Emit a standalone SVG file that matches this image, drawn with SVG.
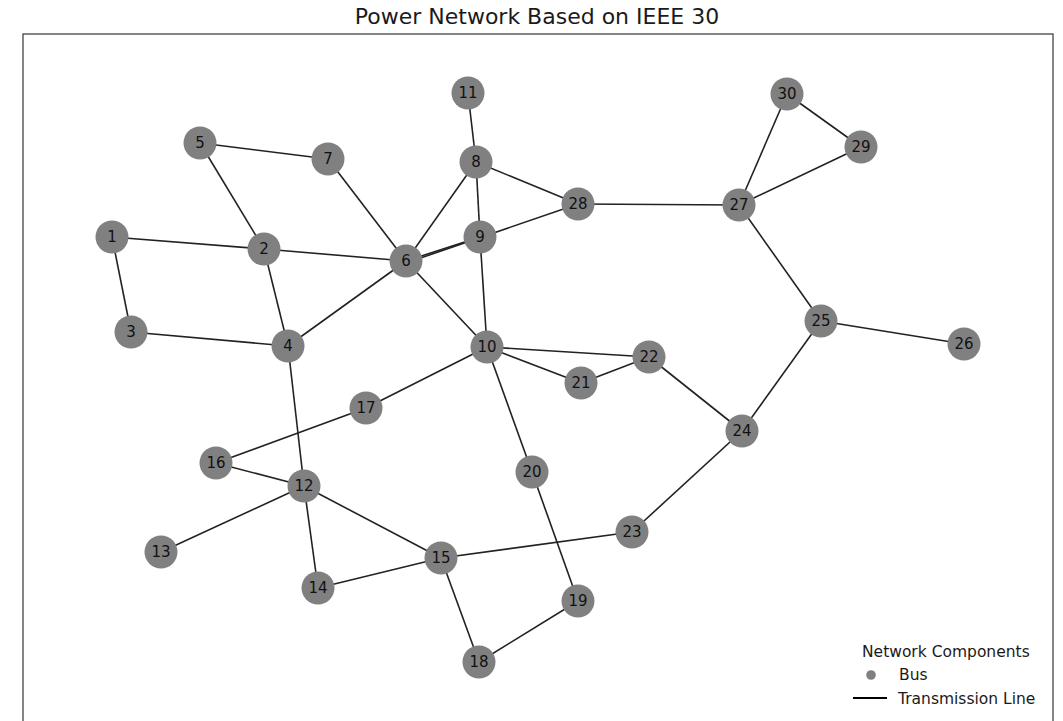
<svg xmlns="http://www.w3.org/2000/svg" width="1063" height="721" viewBox="0 0 1063 721">
  <style>
    .title { font-family: "DejaVu Sans", "Liberation Sans", sans-serif; font-size: 22px; fill: #1a1a1a; text-anchor: middle; }
    .frame { fill: none; stroke: #444; stroke-width: 1.3; }
    .edges line { stroke: #222; stroke-width: 1.6; }
    .bus circle { fill: #808080; }
    .bus text { font-family: "DejaVu Sans", "Liberation Sans", sans-serif; font-size: 15px; fill: #111; text-anchor: middle; dominant-baseline: central; }
    .legend text { font-family: "DejaVu Sans", "Liberation Sans", sans-serif; font-size: 15.5px; fill: #1a1a1a; }
  </style>

  <rect width="1063" height="721" fill="#ffffff"/>
  <text class="title" x="537" y="24">Power Network Based on IEEE 30</text>
  <rect class="frame" x="23" y="34" width="1030" height="700"/>

  <!-- transmission lines -->
  <g id="connectors" class="edges">
    <line x1="112" y1="237" x2="264" y2="249"/>
    <line x1="112" y1="237" x2="131" y2="332"/>
    <line x1="264" y1="249" x2="200" y2="143"/>
    <line x1="264" y1="249" x2="406" y2="261"/>
    <line x1="264" y1="249" x2="288" y2="346"/>
    <line x1="131" y1="332" x2="288" y2="346"/>
    <line x1="288" y1="346" x2="406" y2="261"/>
    <line x1="288" y1="346" x2="304" y2="486"/>
    <line x1="200" y1="143" x2="328" y2="159"/>
    <line x1="406" y1="261" x2="328" y2="159"/>
    <line x1="406" y1="261" x2="476" y2="162"/>
    <line x1="406" y1="261" x2="480" y2="237"/>
    <line x1="406" y1="263" x2="578" y2="204"/>
    <line x1="406" y1="261" x2="487" y2="347"/>
    <line x1="476" y1="162" x2="468" y2="93"/>
    <line x1="476" y1="162" x2="480" y2="237"/>
    <line x1="476" y1="162" x2="578" y2="204"/>
    <line x1="480" y1="237" x2="487" y2="347"/>
    <line x1="487" y1="347" x2="366" y2="408"/>
    <line x1="487" y1="347" x2="532" y2="472"/>
    <line x1="487" y1="347" x2="581" y2="383"/>
    <line x1="487" y1="347" x2="649" y2="357"/>
    <line x1="581" y1="383" x2="649" y2="357"/>
    <line x1="649" y1="357" x2="742" y2="431"/>
    <line x1="632" y1="532" x2="742" y2="431"/>
    <line x1="441" y1="558" x2="632" y2="532"/>
    <line x1="742" y1="431" x2="821" y2="321"/>
    <line x1="821" y1="321" x2="964" y2="344"/>
    <line x1="821" y1="321" x2="739" y2="205"/>
    <line x1="578" y1="204" x2="739" y2="205"/>
    <line x1="739" y1="205" x2="861" y2="147"/>
    <line x1="739" y1="205" x2="787" y2="94"/>
    <line x1="861" y1="147" x2="787" y2="94"/>
    <line x1="304" y1="486" x2="161" y2="552"/>
    <line x1="304" y1="486" x2="318" y2="588"/>
    <line x1="304" y1="486" x2="441" y2="558"/>
    <line x1="304" y1="486" x2="216" y2="463"/>
    <line x1="216" y1="463" x2="366" y2="408"/>
    <line x1="318" y1="588" x2="441" y2="558"/>
    <line x1="441" y1="558" x2="479" y2="662"/>
    <line x1="479" y1="662" x2="578" y2="601"/>
    <line x1="578" y1="601" x2="532" y2="472"/>
  </g>

  <!-- buses -->
  <g id="bus1" class="bus"><circle cx="112" cy="237" r="16.5"/><text x="112" y="237">1</text></g>
  <g id="bus2" class="bus"><circle cx="264" cy="249" r="16.5"/><text x="264" y="249">2</text></g>
  <g id="bus3" class="bus"><circle cx="131" cy="332" r="16.5"/><text x="131" y="332">3</text></g>
  <g id="bus4" class="bus"><circle cx="288" cy="346" r="16.5"/><text x="288" y="346">4</text></g>
  <g id="bus5" class="bus"><circle cx="200" cy="143" r="16.5"/><text x="200" y="143">5</text></g>
  <g id="bus6" class="bus"><circle cx="406" cy="261" r="16.5"/><text x="406" y="261">6</text></g>
  <g id="bus7" class="bus"><circle cx="328" cy="159" r="16.5"/><text x="328" y="159">7</text></g>
  <g id="bus8" class="bus"><circle cx="476" cy="162" r="16.5"/><text x="476" y="162">8</text></g>
  <g id="bus9" class="bus"><circle cx="480" cy="237" r="16.5"/><text x="480" y="237">9</text></g>
  <g id="bus10" class="bus"><circle cx="487" cy="347" r="16.5"/><text x="487" y="347">10</text></g>
  <g id="bus11" class="bus"><circle cx="468" cy="93" r="16.5"/><text x="468" y="93">11</text></g>
  <g id="bus12" class="bus"><circle cx="304" cy="486" r="16.5"/><text x="304" y="486">12</text></g>
  <g id="bus13" class="bus"><circle cx="161" cy="552" r="16.5"/><text x="161" y="552">13</text></g>
  <g id="bus14" class="bus"><circle cx="318" cy="588" r="16.5"/><text x="318" y="588">14</text></g>
  <g id="bus15" class="bus"><circle cx="441" cy="558" r="16.5"/><text x="441" y="558">15</text></g>
  <g id="bus16" class="bus"><circle cx="216" cy="463" r="16.5"/><text x="216" y="463">16</text></g>
  <g id="bus17" class="bus"><circle cx="366" cy="408" r="16.5"/><text x="366" y="408">17</text></g>
  <g id="bus18" class="bus"><circle cx="479" cy="662" r="16.5"/><text x="479" y="662">18</text></g>
  <g id="bus19" class="bus"><circle cx="578" cy="601" r="16.5"/><text x="578" y="601">19</text></g>
  <g id="bus20" class="bus"><circle cx="532" cy="472" r="16.5"/><text x="532" y="472">20</text></g>
  <g id="bus21" class="bus"><circle cx="581" cy="383" r="16.5"/><text x="581" y="383">21</text></g>
  <g id="bus22" class="bus"><circle cx="649" cy="357" r="16.5"/><text x="649" y="357">22</text></g>
  <g id="bus23" class="bus"><circle cx="632" cy="532" r="16.5"/><text x="632" y="532">23</text></g>
  <g id="bus24" class="bus"><circle cx="742" cy="431" r="16.5"/><text x="742" y="431">24</text></g>
  <g id="bus25" class="bus"><circle cx="821" cy="321" r="16.5"/><text x="821" y="321">25</text></g>
  <g id="bus26" class="bus"><circle cx="964" cy="344" r="16.5"/><text x="964" y="344">26</text></g>
  <g id="bus27" class="bus"><circle cx="739" cy="205" r="16.5"/><text x="739" y="205">27</text></g>
  <g id="bus28" class="bus"><circle cx="578" cy="204" r="16.5"/><text x="578" y="204">28</text></g>
  <g id="bus29" class="bus"><circle cx="861" cy="147" r="16.5"/><text x="861" y="147">29</text></g>
  <g id="bus30" class="bus"><circle cx="787" cy="94" r="16.5"/><text x="787" y="94">30</text></g>

  <!-- legend -->
  <g id="legend" class="legend">
    <text x="862" y="657">Network Components</text>
    <circle cx="871" cy="675" r="4.8" fill="#808080"/>
    <text x="899" y="680">Bus</text>
    <line x1="853" y1="698" x2="887" y2="698" stroke="#000" stroke-width="2"/>
    <text x="898" y="704">Transmission Line</text>
  </g>
</svg>
